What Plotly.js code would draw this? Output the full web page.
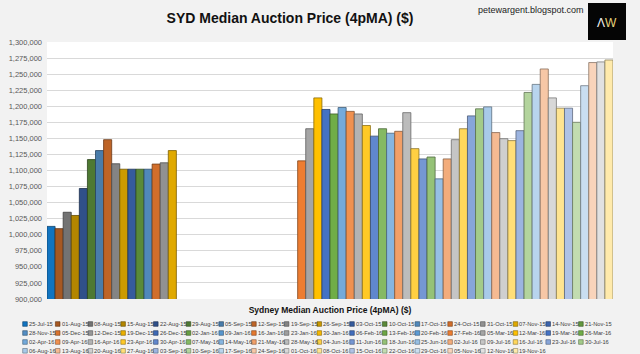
<!DOCTYPE html>
<html>
<head>
<meta charset="utf-8">
<script src="https://cdn.plot.ly/plotly-3.0.1.min.js"></script>
<style>
html,body{margin:0;padding:0;background:#F2F2F2;}
#chart{width:640px;height:354px;}
</style>
</head>
<body>
<div id="chart"></div>
<script>
// ---------------- data ----------------
const chartTitle = 'SYD Median Auction Price (4pMA) ($)';
const categoryLabel = 'Sydney Median Auction Price (4pMA) ($)';
const sourceText = 'petewargent.blogspot.com';

const weeks = [
  '25-Jul-15','01-Aug-15','08-Aug-15','15-Aug-15','22-Aug-15','29-Aug-15','05-Sep-15','12-Sep-15','19-Sep-15',
  '26-Sep-15','03-Oct-15','10-Oct-15','17-Oct-15','24-Oct-15','31-Oct-15','07-Nov-15','14-Nov-15','21-Nov-15',
  '28-Nov-15','05-Dec-15','12-Dec-15','19-Dec-15','26-Dec-15','02-Jan-16','09-Jan-16','16-Jan-16','23-Jan-16',
  '30-Jan-16','06-Feb-16','13-Feb-16','20-Feb-16','27-Feb-16','05-Mar-16','12-Mar-16','19-Mar-16','26-Mar-16',
  '02-Apr-16','09-Apr-16','16-Apr-16','23-Apr-16','30-Apr-16','07-May-16','14-May-16','21-May-16','28-May-16',
  '04-Jun-16','11-Jun-16','18-Jun-16','25-Jun-16','02-Jul-16','09-Jul-16','16-Jul-16','23-Jul-16','30-Jul-16',
  '06-Aug-16','13-Aug-16','20-Aug-16','27-Aug-16','03-Sep-16','10-Sep-16','17-Sep-16','24-Sep-16','01-Oct-16',
  '08-Oct-16','15-Oct-16','22-Oct-16','29-Oct-16','05-Nov-16','12-Nov-16','19-Nov-16'
];

// median auction price, 4-period moving average (null = no value published)
const medianPrice = [
  1013000,1009500,1035000,1030000,1072000,1117000,1131000,1148000,1110500,
  1102000,1102000,1102000,1102000,1110000,1112000,1131000,null,null,
  null,null,null,null,null,null,null,null,null,
  null,null,null,null,1115000,1165000,1213000,1195000,1188000,
  1198000,1192000,1188000,1170000,1153500,1165000,1158000,1161000,1190000,
  1134000,1118000,1121000,1087000,1118000,1148000,1165000,1185000,1196000,
  1199000,1159000,1149500,1146500,1162000,1221500,1234000,1258000,1213000,
  1197000,1197000,1175000,1232000,1268000,1269000,1272000
];

const yMin = 900000, yMax = 1300000, yStep = 25000;

// ---------------- styling ----------------
const accents = ['#5B9BD5','#ED7D31','#A5A5A5','#FFC000','#4472C4','#70AD47'];
const groupTint = [-0.3,-0.2,-0.12,-0.08,-0.04,0,0.15,0.26,0.36,0.47,0.57,0.67];
const colorOverride = {0:'#1274C0'};

function hexToRgb(h){h=h.replace('#','');return [0,2,4].map(i=>parseInt(h.substr(i,2),16));}
function rgbToHex(c){return '#'+c.map(v=>Math.max(0,Math.min(255,Math.round(v))).toString(16).padStart(2,'0')).join('');}
function shade(hex,t){
  const c=hexToRgb(hex);
  return rgbToHex(c.map(v=> t<0 ? v*(1+t) : v+(255-v)*t));
}
const barColors = weeks.map((w,i)=> colorOverride[i] || shade(accents[i%6], groupTint[Math.floor(i/6)]));
const barBorders = barColors.map(c=>shade(c,-0.45));

const W=640,H=354,L=47,R=27,T=42,B=55;
const pw=W-L-R, ph=H-T-B;
const px2x = p => (p-L)/pw;
const py2y = p => (H-B-p)/ph;

const sans = '"Liberation Sans", Arial, sans-serif';

// ---------------- custom legend (entries in series order) ----------------
const legendRowsY = [324, 333, 342, 350.8];
const legendX0 = 25, legendStep = 32.7, perRow = 18, sq = 2.3;
const shapes = [];
const annotations = [];
weeks.forEach((w,i)=>{
  const row = Math.floor(i/perRow), col = i%perRow;
  const mx = legendX0 + col*legendStep, my = legendRowsY[row];
  shapes.push({type:'rect', xref:'paper', yref:'paper',
    x0:px2x(mx-sq), x1:px2x(mx+sq), y0:py2y(my+sq), y1:py2y(my-sq),
    fillcolor:barColors[i], line:{color:barBorders[i], width:0.6}, layer:'above'});
  annotations.push({xref:'paper', yref:'paper', x:px2x(mx+sq+0.6), y:py2y(my),
    xanchor:'left', yanchor:'middle', showarrow:false, text:w, borderpad:0,
    font:{family:sans, size:5.7, color:'#404040'}});
});

// logo + source
shapes.push({type:'rect', xref:'paper', yref:'paper',
  x0:px2x(588), x1:px2x(626), y0:py2y(40), y1:py2y(3),
  fillcolor:'#050505', line:{width:0}, layer:'above'});
annotations.push({xref:'paper', yref:'paper', x:px2x(607), y:py2y(23), xanchor:'center', yanchor:'middle',
  showarrow:false, text:'<span style="color:#F4F4F4">Λ</span><span style="color:#E6D27A">W</span>',
  font:{family:sans, size:12}});
annotations.push({xref:'paper', yref:'paper', x:px2x(586), y:py2y(10), xanchor:'right', yanchor:'middle',
  showarrow:false, text:sourceText, font:{family:sans, size:9, color:'#222222'}});

const trace = {
  type:'bar', x:weeks, y:medianPrice, showlegend:false,
  marker:{color:barColors, line:{color:barBorders, width:0.8}},
  hovertemplate:'%{x}: %{y:,.0f}<extra></extra>'
};

const layout = {
  width:W, height:H,
  margin:{l:L, r:R, t:T, b:B, pad:0},
  paper_bgcolor:'#F2F2F2', plot_bgcolor:'#FFFFFF',
  bargap:0, showlegend:false,
  title:{text:chartTitle, x:290/W, xanchor:'center', y:1-18/H, yanchor:'middle',
    font:{family:sans, size:14, color:'#111111', weight:'bold'}},
  xaxis:{type:'category', categoryorder:'array', categoryarray:weeks, range:[-0.5, weeks.length-0.5],
    showticklabels:false, ticks:'', showgrid:false, zeroline:false, showline:false, fixedrange:true,
    title:{text:categoryLabel, standoff:8, font:{family:sans, size:8.5, color:'#111111', weight:'bold'}}},
  yaxis:{range:[yMin,yMax], tick0:yMin, dtick:yStep, tickformat:',.0f', fixedrange:true,
    gridcolor:'#D9D9D9', gridwidth:1, zeroline:false, showline:false, ticks:'',
    ticklabelstandoff:4,
    tickfont:{family:sans, size:7.5, color:'#595959'}},
  shapes:shapes, annotations:annotations
};

Plotly.newPlot('chart',[trace],layout,{displayModeBar:false, staticPlot:true});
</script>
</body>
</html>
